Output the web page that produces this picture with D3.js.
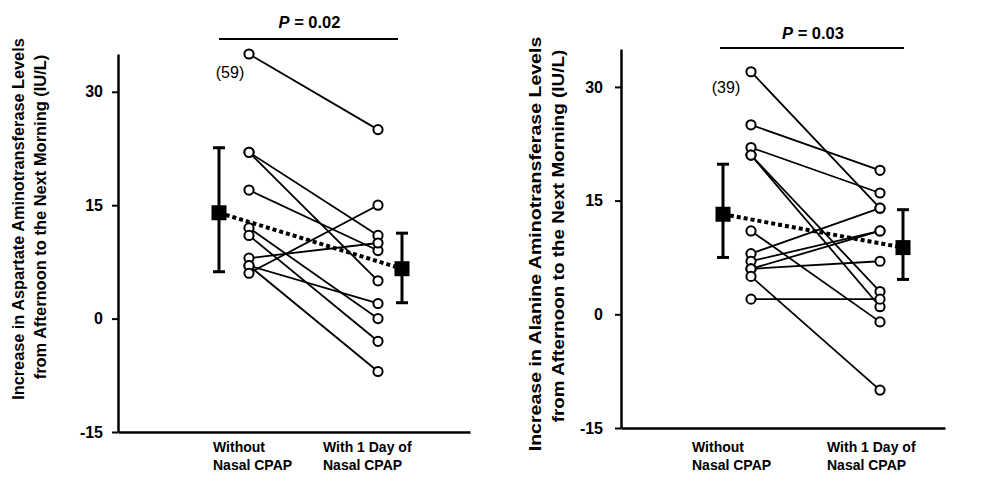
<!DOCTYPE html>
<html>
<head>
<meta charset="utf-8">
<script src="https://cdn.jsdelivr.net/npm/d3@7"></script>
<style>
  body { margin: 0; background: #fff; }
  svg { display: block; }
  text { font-family: "Liberation Sans", Arial, Helvetica, sans-serif; fill: #000; }
  .bold { font-weight: bold; }
</style>
</head>
<body>
<svg id="chart" width="994" height="481"></svg>
<script>
// ---- data ----
const groups = ["Without Nasal CPAP", "With 1 Day of Nasal CPAP"];
const groupLines = [["Without", "Nasal CPAP"], ["With 1 Day of", "Nasal CPAP"]];
const yTicks = [-15, 0, 15, 30];
const yDomain = [-15, 35];

// Aspartate aminotransferase, paired change per patient (IU/L)
const astWithout = [35, 22, 22, 17, 12, 11, 8, 7, 7, 6];
const astWith    = [25, 11, 5, 9, 0, -3, 10, 2, -7, 15];
const astMean    = [14, 6.6];
const astLow     = [6.2, 2.1];
const astHigh    = [22.6, 11.3];
const astTitle   = ["Increase in Aspartate Aminotransferase Levels", "from Afternoon to the Next Morning (IU/L)"];
const astP       = "0.02";
const astNote    = "(59)";

// Alanine aminotransferase, paired change per patient (IU/L)
const altWithout = [32, 25, 22, 21, 21, 11, 8, 7, 6, 6, 5, 2];
const altWith    = [14, 19, 16, 3, 1, -1, 14, 11, 11, 7, -10, 2];
const altMean    = [13.2, 8.8];
const altLow     = [7.5, 4.6];
const altHigh    = [19.8, 13.8];
const altTitle   = ["Increase in Alanine Aminotransferase Levels", "from Afternoon to the Next Morning (IU/L)"];
const altP       = "0.03";
const altNote    = "(39)";

// ---- layout ----
const panels = [
  {
    before: astWithout, after: astWith, mean: astMean, low: astLow, high: astHigh,
    title: astTitle, p: astP, note: astNote,
    axisX: 118, xEnd: 470, yTop: 54, yBottom: 432, tickPad: 9,
    cats: [249, 378], meanOff: [-30, 24], labelLeft: [213, 323],
    pBar: [219, 398], pBarY: 39, pTextY: 28,
    noteX: 230, noteY: 78,
    titleX: [18, 40], titleY: [219, 217], titleLen: [362, 325], titleSize: 16
  },
  {
    before: altWithout, after: altWith, mean: altMean, low: altLow, high: altHigh,
    title: altTitle, p: altP, note: altNote,
    axisX: 621, xEnd: 945, yTop: 49, yBottom: 428, tickPad: 12,
    cats: [751, 880], meanOff: [-28, 23], labelLeft: [692, 827],
    pBar: [720, 904], pBarY: 48, pTextY: 39,
    noteX: 726, noteY: 93,
    titleX: [535, 558], titleY: [244, 236], titleLen: [415, 373], titleSize: 16.5
  }
];

const svg = d3.select("#chart");

panels.forEach(P => {
  const g = svg.append("g");
  const y = d3.scaleLinear().domain(yDomain).range([P.yBottom, P.yTop]);
  const x = d3.scalePoint().domain(groups).range(P.cats);
  const xAxisScale = d3.scaleLinear().domain([0, 1]).range([P.axisX, P.xEnd]);

  // y axis
  const ya = g.append("g")
    .attr("transform", `translate(${P.axisX},0)`)
    .call(d3.axisLeft(y).tickValues(yTicks).tickFormat(d => String(d))
      .tickSize(6).tickSizeOuter(0).tickPadding(P.tickPad));
  ya.select(".domain").attr("stroke", "#000").attr("stroke-width", 2.5);
  ya.selectAll(".tick line").attr("stroke", "#000").attr("stroke-width", 2);
  ya.selectAll(".tick text")
    .style("font-family", '"Liberation Sans", Arial, sans-serif')
    .style("font-size", "16px").style("font-weight", "bold").attr("fill", "#000");

  // x axis baseline (no ticks)
  const xa = g.append("g")
    .attr("transform", `translate(0,${P.yBottom})`)
    .call(d3.axisBottom(xAxisScale).tickValues([]).tickSizeOuter(0));
  xa.select(".domain").attr("stroke", "#000").attr("stroke-width", 2.5);

  // y axis title: two rotated lines, condensed along the line to a set length
  P.title.forEach((t, i) => {
    const holder = g.append("g")
      .attr("transform", `translate(${P.titleX[i]},${P.titleY[i]}) rotate(-90)`);
    const tx = holder.append("text").attr("class", "bold")
      .attr("text-anchor", "middle").attr("dy", "0.36em")
      .style("font-size", P.titleSize + "px")
      .text(t);
    const w = tx.node().getComputedTextLength();
    tx.attr("transform", `scale(${(P.titleLen[i] / w).toFixed(4)},1)`);
  });

  // category labels: left-aligned lines in a block
  groups.forEach((grp, i) => {
    const t = g.append("text").attr("class", "bold")
      .attr("x", P.labelLeft[i]).attr("y", 452)
      .style("font-size", "14px");
    groupLines[i].forEach((ln, j) => {
      t.append("tspan").attr("x", P.labelLeft[i]).attr("dy", j === 0 ? 0 : 18).text(ln);
    });
  });

  // paired patient lines
  const pairs = P.before.map((b, i) => [b, P.after[i]]);
  g.append("g").selectAll("line").data(pairs).join("line")
    .attr("x1", x(groups[0])).attr("x2", x(groups[1]))
    .attr("y1", d => y(d[0])).attr("y2", d => y(d[1]))
    .attr("stroke", "#000").attr("stroke-width", 1.8);

  // patient circles
  [P.before, P.after].forEach((vals, k) => {
    g.append("g").selectAll("circle").data(vals).join("circle")
      .attr("cx", x(groups[k])).attr("cy", d => y(d))
      .attr("r", 4.6).attr("fill", "#fff").attr("stroke", "#000").attr("stroke-width", 2);
  });

  // group means with error bars
  const mx = groups.map((grp, k) => x(grp) + P.meanOff[k]);
  g.append("line")
    .attr("x1", mx[0]).attr("x2", mx[1])
    .attr("y1", y(P.mean[0])).attr("y2", y(P.mean[1]))
    .attr("stroke", "#000").attr("stroke-width", 4).attr("stroke-dasharray", "4 3");
  P.mean.forEach((m, k) => {
    const eb = g.append("g");
    eb.append("line").attr("x1", mx[k]).attr("x2", mx[k])
      .attr("y1", y(P.low[k])).attr("y2", y(P.high[k]))
      .attr("stroke", "#000").attr("stroke-width", 3);
    [P.low[k], P.high[k]].forEach(v => {
      eb.append("line").attr("x1", mx[k] - 6).attr("x2", mx[k] + 6)
        .attr("y1", y(v)).attr("y2", y(v))
        .attr("stroke", "#000").attr("stroke-width", 3);
    });
    eb.append("rect").attr("x", mx[k] - 7.5).attr("y", y(m) - 7.5)
      .attr("width", 15).attr("height", 15).attr("fill", "#000");
  });

  // significance bar
  g.append("line")
    .attr("x1", P.pBar[0]).attr("x2", P.pBar[1])
    .attr("y1", P.pBarY).attr("y2", P.pBarY)
    .attr("stroke", "#000").attr("stroke-width", 2.2);
  const pt = g.append("text")
    .attr("x", (P.pBar[0] + P.pBar[1]) / 2 + 1).attr("y", P.pTextY)
    .attr("text-anchor", "middle")
    .style("font-size", "16.5px").style("font-weight", "bold");
  pt.append("tspan").style("font-style", "italic").text("P");
  pt.append("tspan").text(" = " + P.p);

  // value of the off-scale patient
  g.append("text")
    .attr("x", P.noteX).attr("y", P.noteY).attr("text-anchor", "middle")
    .style("font-size", "16px")
    .text(P.note);
});
</script>
</body>
</html>
